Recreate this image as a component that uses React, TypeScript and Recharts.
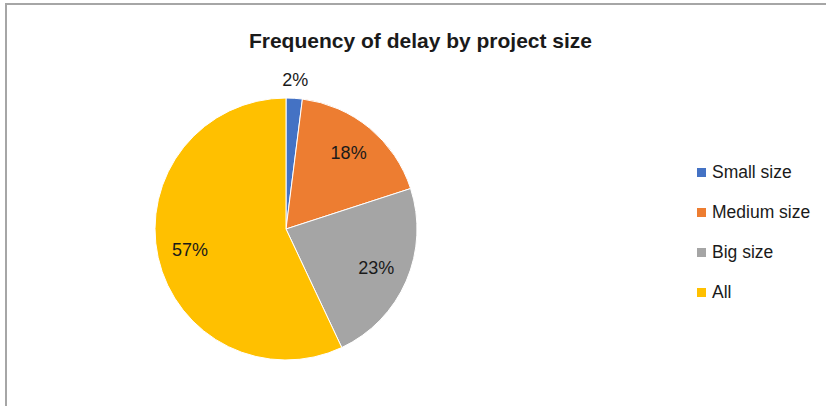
import { PieChart, Pie, Cell, Legend } from "recharts";

const categories = ["Small size", "Medium size", "Big size", "All"];
const shares = [2, 18, 23, 57];
const colors = ["#4472C4", "#ED7D31", "#A5A5A5", "#FFC000"];

const data = categories.map((name, i) => ({ name, value: shares[i] }));

const RAD = Math.PI / 180;
const FONT = "'Liberation Sans', Arial, sans-serif";

function renderLabel(props: any) {
  const { cx, cy, midAngle, outerRadius, percent } = props;
  const r = percent < 0.05 ? outerRadius + 18 : outerRadius * 0.75;
  const x = cx + r * Math.cos(-midAngle * RAD);
  const y = cy + r * Math.sin(-midAngle * RAD);
  return (
    <text
      x={x}
      y={y}
      textAnchor="middle"
      dominantBaseline="central"
      fill="#1a1a1a"
      fontSize={18}
      fontFamily={FONT}
    >
      {`${Math.round(percent * 100)}%`}
    </text>
  );
}

// legend keeps the data order (recharts sorts the payload otherwise)
function LegendBox() {
  return (
    <div style={{ fontFamily: FONT }}>
      {categories.map((name, i) => (
        <div
          key={name}
          style={{ display: "flex", alignItems: "center", height: 40, fontSize: 17.5, color: "#1a1a1a" }}
        >
          <span style={{ width: 9, height: 9, background: colors[i], marginRight: 6, display: "inline-block" }} />
          {name}
        </div>
      ))}
    </div>
  );
}

export default function App() {
  return (
    <div style={{ position: "fixed", left: 0, top: 0, width: 826, height: 406, background: "#fff", overflow: "hidden" }}>
      <div
        style={{
          position: "absolute",
          left: 5,
          top: 3,
          width: 900,
          height: 500,
          border: "2px solid #a6a6a6",
        }}
      />
      <div
        style={{
          position: "absolute",
          left: 0,
          width: 841,
          top: 29,
          textAlign: "center",
          fontFamily: FONT,
          fontWeight: "bold",
          fontSize: 21,
          color: "#1a1a1a",
        }}
      >
        Frequency of delay by project size
      </div>
      <div style={{ position: "absolute", left: 0, top: 0 }}>
        <PieChart width={826} height={406} margin={{ top: 0, right: 0, bottom: 0, left: 0 }}>
          <Pie
            data={data}
            dataKey="value"
            nameKey="name"
            cx={286}
            cy={229}
            outerRadius={131}
            startAngle={90}
            endAngle={-270}
            stroke="#fff"
            strokeWidth={1}
            label={renderLabel}
            labelLine={false}
            isAnimationActive={false}
          >
            {data.map((d, i) => (
              <Cell key={d.name} fill={colors[i]} />
            ))}
          </Pie>
          <Legend
            layout="vertical"
            content={<LegendBox />}
            wrapperStyle={{ position: "absolute", left: 697, top: 152, width: 130 }}
          />
        </PieChart>
      </div>
    </div>
  );
}
